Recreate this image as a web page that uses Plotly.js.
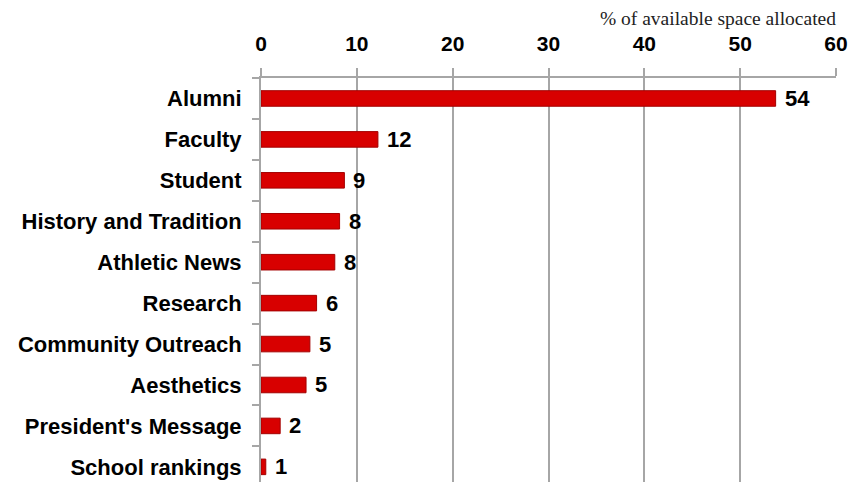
<!DOCTYPE html>
<html>
<head>
<meta charset="utf-8">
<script src="https://cdn.plot.ly/plotly-3.0.1.min.js"></script>
<style>html,body{margin:0;padding:0;background:#fff;}#chart{width:852px;height:482px;}</style>
</head>
<body>
<div id="chart"></div>
<script>
const categories = ["Alumni","Faculty","Student","History and Tradition","Athletic News","Research","Community Outreach","Aesthetics","President's Message","School rankings"];
const values = [53.7, 12.2, 8.7, 8.2, 7.7, 5.8, 5.1, 4.7, 2.0, 0.5];
const valueLabels = ["54","12","9","8","8","6","5","5","2","1"];
const xTicks = [0,10,20,30,40,50,60];

const trace = {
  type: 'bar',
  orientation: 'h',
  y: categories,
  x: values,
  width: 0.38,
  marker: {color: '#d80000', line: {color: '#a30000', width: 1}},
  hoverinfo: 'none'
};

const annotations = categories.map((c, i) => ({
  x: values[i], y: c, xref: 'x', yref: 'y',
  text: valueLabels[i], showarrow: false,
  xanchor: 'left', yanchor: 'middle', xshift: 7,
  font: {family: 'Liberation Sans, Arial, sans-serif', size: 22, weight: 700, color: '#000'}
}));

const layout = {
  width: 852, height: 482,
  margin: {l: 261, r: 16, t: 78, b: 0},
  paper_bgcolor: '#fff', plot_bgcolor: '#fff',
  showlegend: false,
  title: {
    text: '% of available space allocated',
    font: {family: 'Liberation Serif, DejaVu Serif, serif', size: 19.5, color: '#222'},
    xref: 'paper', x: 1, xanchor: 'right',
    yref: 'container', y: 0.962, yanchor: 'middle'
  },
  xaxis: {
    side: 'top', range: [0, 60], tickvals: xTicks, ticktext: xTicks.map(String),
    showgrid: true, gridcolor: '#a6a6a6', gridwidth: 2,
    showline: true, linecolor: '#a6a6a6', linewidth: 2,
    ticks: 'outside', ticklen: 8, tickwidth: 2, tickcolor: '#a6a6a6',
    ticklabelstandoff: 9,
    tickfont: {family: 'Liberation Sans, Arial, sans-serif', size: 21, weight: 700, color: '#000'},
    zeroline: false, fixedrange: true
  },
  yaxis: {
    type: 'category', range: [9.37, -0.5],
    showline: true, linecolor: '#a6a6a6', linewidth: 2,
    ticks: 'outside', tickson: 'boundaries', ticklen: 7, tickwidth: 2, tickcolor: '#a6a6a6',
    showgrid: false,
    tickfont: {family: 'Liberation Sans, Arial, sans-serif', size: 22, weight: 700, color: '#000'},
    ticklabelstandoff: 13,
    fixedrange: true
  },
  annotations: annotations
};

Plotly.newPlot('chart', [trace], layout, {displayModeBar: false, staticPlot: true});
</script>
</body>
</html>
